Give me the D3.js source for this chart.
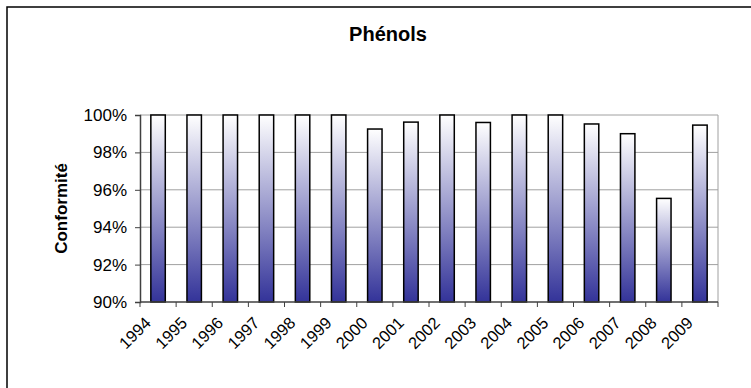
<!DOCTYPE html>
<html>
<head>
<meta charset="utf-8">
<script src="https://cdn.jsdelivr.net/npm/d3@7"></script>
<style>
  body { margin: 0; background: #fff; }
  svg text { font-family: "Liberation Sans", Arial, sans-serif; fill: #000; }
</style>
</head>
<body>
<div id="chart"></div>
<script>
// data
const years = ["1994", "1995", "1996", "1997", "1998", "1999", "2000", "2001",
  "2002", "2003", "2004", "2005", "2006", "2007", "2008", "2009"];
const conformite = [100, 100, 100, 100, 100, 100, 99.25, 99.62,
  100, 99.6, 100, 100, 99.52, 99.0, 95.54, 99.46];
const yTicks = [90, 92, 94, 96, 98, 100];

const width = 751, height = 388;
const margin = { left: 140, right: 33, top: 115, bottom: 86 };

const svg = d3.select('#chart').append('svg')
  .attr('width', width)
  .attr('height', height);

// gradient for the bars, white on top to blue at bottom
const grad = svg.append('defs').append('linearGradient')
  .attr('id', 'barGrad')
  .attr('x1', 0).attr('y1', 0).attr('x2', 0).attr('y2', 1);
grad.append('stop').attr('offset', '0%').attr('stop-color', '#ffffff');
grad.append('stop').attr('offset', '100%').attr('stop-color', '#333399');

// outer chart frame (runs off the right and bottom)
svg.append('rect')
  .attr('x', 7).attr('y', 7)
  .attr('width', 800).attr('height', 450)
  .attr('fill', 'none')
  .attr('stroke', '#000')
  .attr('stroke-width', 1.5);

const x = d3.scaleBand()
  .domain(years)
  .range([margin.left, width - margin.right])
  .paddingInner(0.6)
  .paddingOuter(0.3);

const y = d3.scaleLinear()
  .domain([90, 100])
  .range([height - margin.bottom, margin.top]);

// grid lines
svg.append('g')
  .selectAll('line')
  .data(yTicks.slice(1))
  .enter().append('line')
  .attr('x1', margin.left).attr('x2', width - margin.right)
  .attr('y1', d => y(d)).attr('y2', d => y(d))
  .attr('stroke', '#a0a0a0')
  .attr('stroke-width', 1);

// right border of plot area
svg.append('line')
  .attr('x1', width - margin.right).attr('x2', width - margin.right)
  .attr('y1', y(100)).attr('y2', y(90))
  .attr('stroke', '#a0a0a0');

// bars
svg.append('g')
  .selectAll('rect')
  .data(years)
  .enter().append('rect')
  .attr('x', d => x(d))
  .attr('width', x.bandwidth())
  .attr('y', (d, i) => y(conformite[i]))
  .attr('height', (d, i) => y(90) - y(conformite[i]))
  .attr('fill', 'url(#barGrad)')
  .attr('stroke', '#000')
  .attr('stroke-width', 1.5);

// y axis
const yAxis = svg.append('g')
  .attr('transform', `translate(${margin.left},0)`)
  .call(d3.axisLeft(y).tickValues(yTicks).tickSize(5).tickPadding(8)
    .tickFormat(d => d + '%'));
yAxis.attr('font-family', null);
yAxis.select('.domain').attr('stroke', '#404040').attr('stroke-width', 1.5);
yAxis.selectAll('.tick line').attr('stroke', '#404040');
yAxis.selectAll('text').style('font-size', '17px');

// x axis, ticks between the categories
const step = x.step();
const xAxis = svg.append('g')
  .attr('transform', `translate(0,${y(90)})`);
xAxis.append('line')
  .attr('x1', margin.left).attr('x2', width - margin.right)
  .attr('stroke', '#404040').attr('stroke-width', 1.5);
xAxis.selectAll('.tk')
  .data(d3.range(years.length + 1))
  .enter().append('line')
  .attr('x1', i => margin.left + i * step)
  .attr('x2', i => margin.left + i * step)
  .attr('y2', 5)
  .attr('stroke', '#404040');
xAxis.selectAll('text')
  .data(years)
  .enter().append('text')
  .attr('text-anchor', 'end')
  .style('font-size', '16.5px')
  .attr('transform', d => `translate(${x(d) + x.bandwidth() / 2 - 6},${22}) rotate(-45)`)
  .text(d => d);

// title
svg.append('text')
  .attr('x', 388).attr('y', 41)
  .attr('text-anchor', 'middle')
  .style('font-size', '20px')
  .style('font-weight', 'bold')
  .text('Phénols');

// y label
svg.append('text')
  .attr('transform', `translate(67,${(y(90) + y(100)) / 2}) rotate(-90)`)
  .attr('text-anchor', 'middle')
  .style('font-size', '17px')
  .style('font-weight', 'bold')
  .text('Conformité');
</script>
</body>
</html>
